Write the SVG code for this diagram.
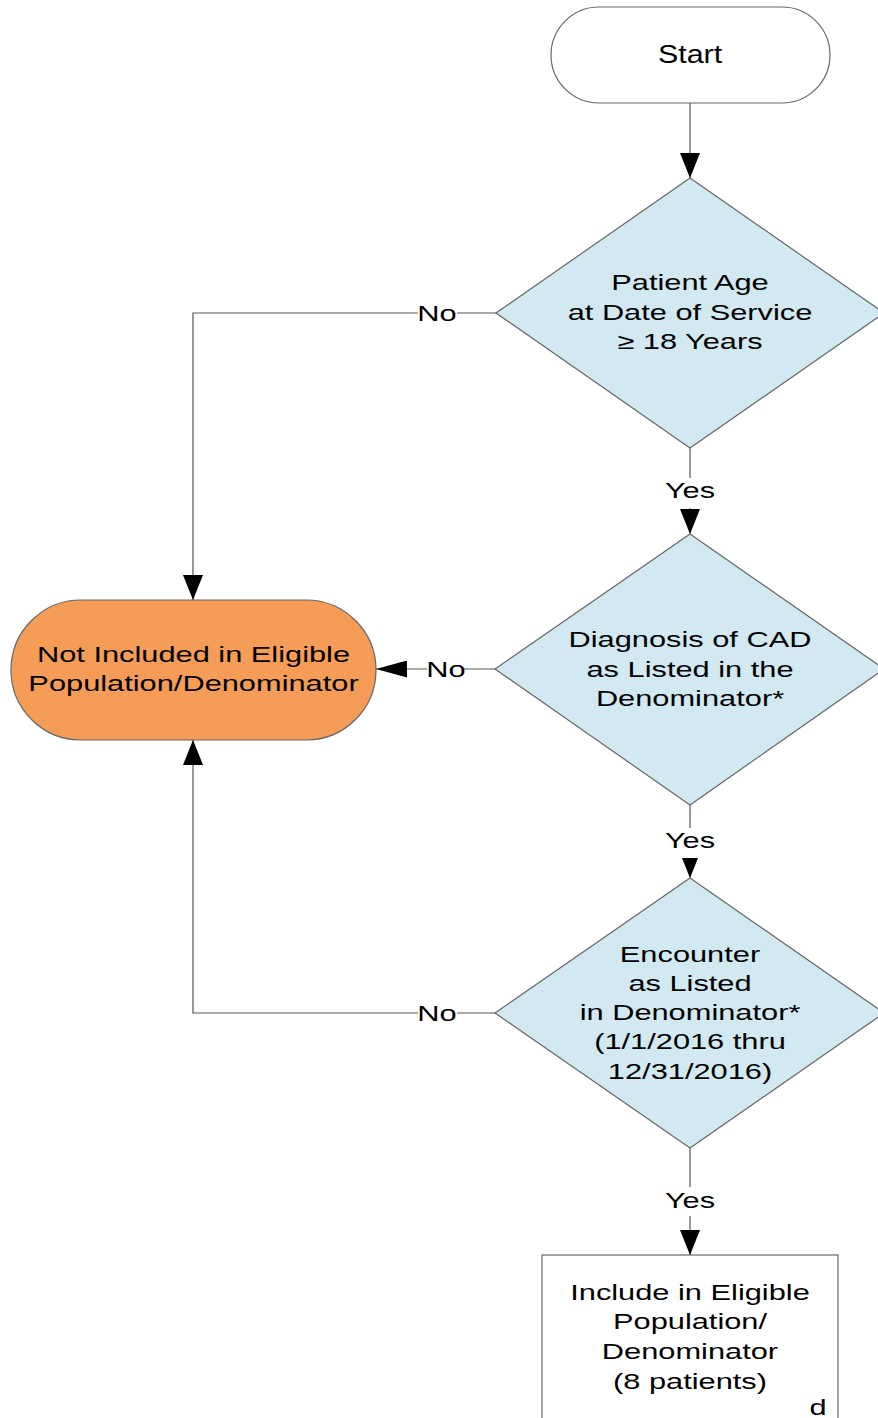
<svg xmlns="http://www.w3.org/2000/svg" width="878" height="1418" viewBox="0 0 878 1418">
<style>
.t{font-family:"Liberation Sans",Arial,sans-serif;font-size:22px;fill:#000;text-anchor:middle}
.ln{fill:none;stroke:#555;stroke-width:1.2}
.dia{fill:#d2e9f1;stroke:#666;stroke-width:1.2}
.term{fill:#fff;stroke:#666;stroke-width:1.2}
.bg{fill:#fff}
</style>
<defs>
<marker id="av" viewBox="0 0 25 20" refX="25" refY="10" markerWidth="25" markerHeight="20" markerUnits="userSpaceOnUse" orient="auto">
<path d="M0,0 L25,10 L0,20 Z" fill="#000"/>
</marker>
<marker id="ah" viewBox="0 0 31 17" refX="31" refY="8.5" markerWidth="31" markerHeight="17" markerUnits="userSpaceOnUse" orient="auto">
<path d="M0,0 L31,8.5 L0,17 Z" fill="#000"/>
</marker>
</defs>
<rect width="878" height="1418" fill="#fff"/>
<g id="connectors">
<path class="ln" d="M690,103 L690,178" marker-end="url(#av)"/>
<path class="ln" d="M690,448 L690,534" marker-end="url(#av)"/>
<path class="ln" d="M690,805 L690,878" marker-end="url(#av)"/>
<path class="ln" d="M690,1148 L690,1255" marker-end="url(#av)"/>
<path class="ln" d="M496,313 L193,313 L193,600" marker-end="url(#av)"/>
<path class="ln" d="M495,669 L376,669" marker-end="url(#ah)"/>
<path class="ln" d="M495,1013 L193,1013 L193,740" marker-end="url(#av)"/>
<rect class="bg" x="664" y="478" width="52" height="30"/>
<text class="t" transform="translate(690 0) scale(1.4 1)"><tspan x="0" y="498">Yes</tspan></text>
<rect class="bg" x="664" y="828" width="52" height="30"/>
<text class="t" transform="translate(690 0) scale(1.4 1)"><tspan x="0" y="848">Yes</tspan></text>
<rect class="bg" x="664" y="1187" width="52" height="29"/>
<text class="t" transform="translate(690 0) scale(1.4 1)"><tspan x="0" y="1208">Yes</tspan></text>
<rect class="bg" x="418" y="300" width="39" height="26"/>
<text class="t" transform="translate(437 0) scale(1.4 1)"><tspan x="0" y="321">No</tspan></text>
<rect class="bg" x="427" y="656" width="37" height="26"/>
<text class="t" transform="translate(446 0) scale(1.4 1)"><tspan x="0" y="677">No</tspan></text>
<rect class="bg" x="418" y="1000" width="39" height="26"/>
<text class="t" transform="translate(437 0) scale(1.4 1)"><tspan x="0" y="1021">No</tspan></text>
</g>
<g id="start">
<rect class="term" x="551" y="7" width="279" height="96" rx="48" ry="48"/>
<text class="t" style="font-size:26px" transform="translate(690 0) scale(1.17 1)"><tspan x="0" y="63">Start</tspan></text>
</g>
<g id="age">
<polygon class="dia" points="690,178 884,313 690,448 496,313"/>
<text class="t" transform="translate(690 0) scale(1.4 1)"><tspan x="0" y="290">Patient Age</tspan><tspan x="0" y="320">at Date of Service</tspan><tspan x="0" y="349">≥ 18 Years</tspan></text>
</g>
<g id="notincluded">
<rect x="11" y="600" width="365" height="140" rx="70" ry="70" fill="#f59d56" stroke="#666" stroke-width="1.2"/>
<text class="t" transform="translate(193.5 0) scale(1.4 1)"><tspan x="0" y="662">Not Included in Eligible</tspan><tspan x="0" y="691">Population/Denominator</tspan></text>
</g>
<g id="diagnosis">
<polygon class="dia" points="690,534 884,669 690,805 495,669"/>
<text class="t" transform="translate(690 0) scale(1.4 1)"><tspan x="0" y="647">Diagnosis of CAD</tspan><tspan x="0" y="677">as Listed in the</tspan><tspan x="0" y="706">Denominator*</tspan></text>
</g>
<g id="encounter">
<polygon class="dia" points="690,878 884,1013 690,1148 495,1013"/>
<text class="t" transform="translate(690 0) scale(1.4 1)"><tspan x="0" y="962">Encounter</tspan><tspan x="0" y="991">as Listed</tspan><tspan x="0" y="1020">in Denominator*</tspan><tspan x="0" y="1049">(1/1/2016 thru</tspan><tspan x="0" y="1079">12/31/2016)</tspan></text>
</g>
<g id="include">
<rect x="542" y="1255" width="296" height="200" fill="#fff" stroke="#666" stroke-width="1.2"/>
<text class="t" transform="translate(690 0) scale(1.4 1)"><tspan x="0" y="1300">Include in Eligible</tspan><tspan x="0" y="1329">Population/</tspan><tspan x="0" y="1359">Denominator</tspan><tspan x="0" y="1389">(8 patients)</tspan></text>
<text class="t" transform="translate(818 0) scale(1.4 1)"><tspan x="0" y="1415">d</tspan></text>
</g>
</svg>
